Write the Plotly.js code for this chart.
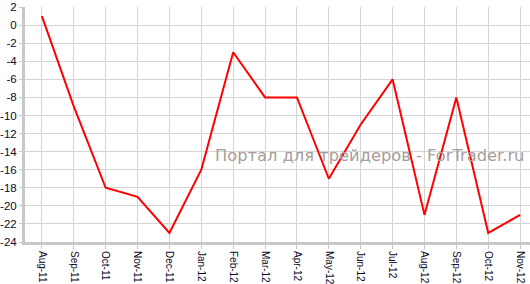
<!DOCTYPE html>
<html><head><meta charset="utf-8">
<script src="https://cdn.plot.ly/plotly-3.0.1.min.js"></script>
<style>html,body{margin:0;padding:0;background:#fff;}#c{width:530px;height:284px;}</style>
</head><body><div id="c"></div>
<script>
const categories = ["Aug-11","Sep-11","Oct-11","Nov-11","Dec-11","Jan-12","Feb-12","Mar-12","Apr-12","May-12","Jun-12","Jul-12","Aug-12","Sep-12","Oct-12","Nov-12"];
const values = [1,-9,-18,-19,-23,-16,-3,-8,-8,-17,-11,-6,-21,-8,-23,-21];
const yTicks = [2,0,-2,-4,-6,-8,-10,-12,-14,-16,-18,-20,-22,-24];

const trace = {x: categories.map((c,i)=>i), y: values, type:'scatter', mode:'lines',
  line:{color:'#ff0000', width:2}, hoverinfo:'skip'};
const layout = {
  width:530, height:284,
  margin:{l:25, r:0, t:7, b:42},
  paper_bgcolor:'#ffffff', plot_bgcolor:'#ffffff',
  showlegend:false,
  font:{family:'Liberation Sans, sans-serif', size:11, color:'#0a0a2a'},
  xaxis:{range:[-0.53,15.31], tickmode:'array', tickvals:categories.map((c,i)=>i), ticktext:categories,
    tickangle:90, showgrid:true, gridcolor:'#d4d4d4', gridwidth:1, zeroline:false,
    showline:true, linecolor:'#c8c8c8', linewidth:3, ticks:'outside', ticklen:4, tickcolor:'#c8c8c8',
    tickfont:{size:10, family:'Liberation Sans, sans-serif', color:'#0a0a2a'}},
  yaxis:{range:[-24,2.005], tickmode:'array', tickvals:yTicks, ticktext:yTicks.map(String),
    ticklabeloverflow:'allow',
    showgrid:true, gridcolor:'#d4d4d4', gridwidth:1, zeroline:false,
    showline:true, linecolor:'#c8c8c8', linewidth:3, ticks:'outside', ticklen:3, tickcolor:'#c8c8c8',
    tickfont:{size:11.5, family:'Liberation Sans, sans-serif', color:'#0a0a2a'}},
  annotations:[{text:'Портал для трейдеров - ForTrader.ru', xref:'paper', yref:'paper', x:0.682, y:0.37,
    xanchor:'center', yanchor:'middle',
    showarrow:false, font:{size:16.3, family:'DejaVu Sans, sans-serif', color:'#a89c9c'}}]
};
Plotly.newPlot('c',[trace],layout,{staticPlot:true, displayModeBar:false});
</script></body></html>
